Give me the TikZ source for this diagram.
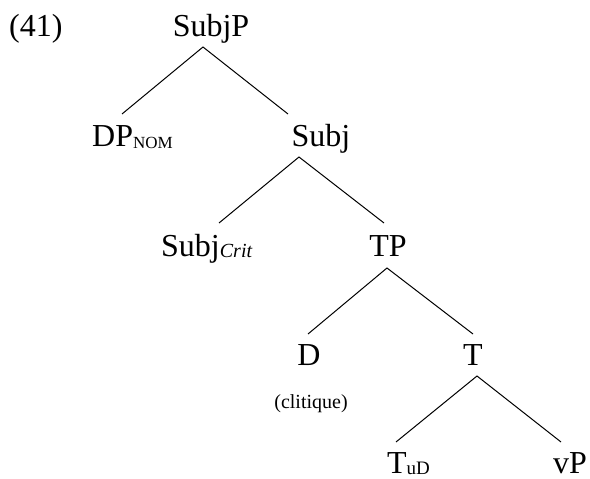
\documentclass[tikz,border=0pt]{standalone}
\usepackage{fontspec}
\setmainfont{Liberation Serif}[ItalicFont={Liberation Serif Italic}]
\begin{document}
\begin{tikzpicture}[x=1pt,y=-1pt,
  lab/.style={font=\fontsize{32}{38}\selectfont, inner sep=0pt, anchor=base},
  labw/.style={lab, anchor=base west},
  small/.style={font=\fontsize{20}{24}\selectfont, inner sep=0pt, anchor=base},
  branch/.style={line width=1pt, black}]
\useasboundingbox (0,0) rectangle (590,479);
% labels
\node[labw] (ex) at (9,37) {(41)};
\node[lab] (subjp) at (211,37) {SubjP};
\node[labw] (dp) at (92,146) {DP\raisebox{-2pt}{\fontsize{17}{20}\selectfont NOM}};
\node[lab] (subj) at (321,146) {Subj};
\node[labw] (subjc) at (161,256) {Subj\raisebox{-1pt}{\fontsize{20}{24}\selectfont\itshape Crit}};
\node[lab] (tp) at (388,256) {TP};
\node[lab] (d) at (309,365) {D};
\node[small] (clit) at (311,408) {(clitique)};
\node[lab] (t) at (473,365) {T};
\node[labw] (tud) at (387,473) {T\raisebox{-1pt}{\fontsize{19}{22}\selectfont uD}};
\node[lab] (vp) at (570,473) {vP};
% branch points
\coordinate (a1) at (203,47);
\coordinate (b1l) at (122,114);
\coordinate (b1r) at (288,114);
\coordinate (a2) at (299,157);
\coordinate (b2l) at (219,223);
\coordinate (b2r) at (384,223);
\coordinate (a3) at (387,268);
\coordinate (b3l) at (308,334);
\coordinate (b3r) at (473,334);
\coordinate (a4) at (477,376);
\coordinate (b4l) at (396,442);
\coordinate (b4r) at (561,442);
\draw[branch] (b1l) -- (a1) -- (b1r);
\draw[branch] (b2l) -- (a2) -- (b2r);
\draw[branch] (b3l) -- (a3) -- (b3r);
\draw[branch] (b4l) -- (a4) -- (b4r);
\end{tikzpicture}
\end{document}
